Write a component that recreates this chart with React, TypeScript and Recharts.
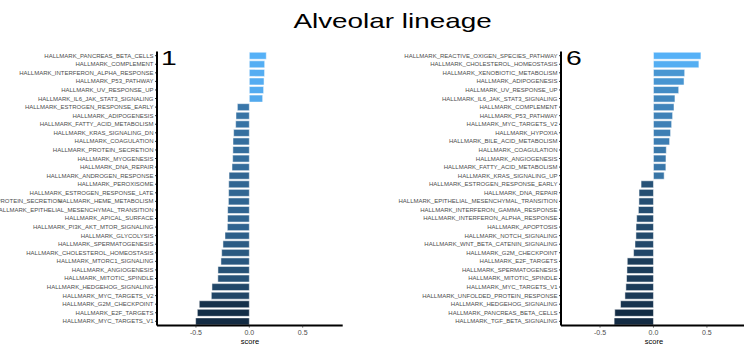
import React from 'react';
import { BarChart, Bar, XAxis, YAxis, Cell } from 'recharts';

const FONT = '"Liberation Sans", Arial, Helvetica, sans-serif';

const panel1Labels = [
  'HALLMARK_PANCREAS_BETA_CELLS',
  'HALLMARK_COMPLEMENT',
  'HALLMARK_INTERFERON_ALPHA_RESPONSE',
  'HALLMARK_P53_PATHWAY',
  'HALLMARK_UV_RESPONSE_UP',
  'HALLMARK_IL6_JAK_STAT3_SIGNALING',
  'HALLMARK_ESTROGEN_RESPONSE_EARLY',
  'HALLMARK_ADIPOGENESIS',
  'HALLMARK_FATTY_ACID_METABOLISM',
  'HALLMARK_KRAS_SIGNALING_DN',
  'HALLMARK_COAGULATION',
  'HALLMARK_PROTEIN_SECRETION',
  'HALLMARK_MYOGENESIS',
  'HALLMARK_DNA_REPAIR',
  'HALLMARK_ANDROGEN_RESPONSE',
  'HALLMARK_PEROXISOME',
  'HALLMARK_ESTROGEN_RESPONSE_LATE',
  'HALLMARK_HEME_METABOLISM',
  'HALLMARK_EPITHELIAL_MESENCHYMAL_TRANSITION',
  'HALLMARK_APICAL_SURFACE',
  'HALLMARK_PI3K_AKT_MTOR_SIGNALING',
  'HALLMARK_GLYCOLYSIS',
  'HALLMARK_SPERMATOGENESIS',
  'HALLMARK_CHOLESTEROL_HOMEOSTASIS',
  'HALLMARK_MTORC1_SIGNALING',
  'HALLMARK_ANGIOGENESIS',
  'HALLMARK_MITOTIC_SPINDLE',
  'HALLMARK_HEDGEHOG_SIGNALING',
  'HALLMARK_MYC_TARGETS_V2',
  'HALLMARK_G2M_CHECKPOINT',
  'HALLMARK_E2F_TARGETS',
  'HALLMARK_MYC_TARGETS_V1',
];
const panel1Scores = [
  0.159, 0.144, 0.143, 0.138, 0.134, 0.125, -0.112, -0.125, -0.128, -0.147,
  -0.153, -0.154, -0.156, -0.162, -0.19, -0.193, -0.194, -0.196, -0.203, -0.204,
  -0.206, -0.228, -0.247, -0.259, -0.266, -0.294, -0.295, -0.35, -0.356, -0.469,
  -0.487, -0.503,
];

const panel6Labels = [
  'HALLMARK_REACTIVE_OXIGEN_SPECIES_PATHWAY',
  'HALLMARK_CHOLESTEROL_HOMEOSTASIS',
  'HALLMARK_XENOBIOTIC_METABOLISM',
  'HALLMARK_ADIPOGENESIS',
  'HALLMARK_UV_RESPONSE_UP',
  'HALLMARK_IL6_JAK_STAT3_SIGNALING',
  'HALLMARK_COMPLEMENT',
  'HALLMARK_P53_PATHWAY',
  'HALLMARK_MYC_TARGETS_V2',
  'HALLMARK_HYPOXIA',
  'HALLMARK_BILE_ACID_METABOLISM',
  'HALLMARK_COAGULATION',
  'HALLMARK_ANGIOGENESIS',
  'HALLMARK_FATTY_ACID_METABOLISM',
  'HALLMARK_KRAS_SIGNALING_UP',
  'HALLMARK_ESTROGEN_RESPONSE_EARLY',
  'HALLMARK_DNA_REPAIR',
  'HALLMARK_EPITHELIAL_MESENCHYMAL_TRANSITION',
  'HALLMARK_INTERFERON_GAMMA_RESPONSE',
  'HALLMARK_INTERFERON_ALPHA_RESPONSE',
  'HALLMARK_APOPTOSIS',
  'HALLMARK_NOTCH_SIGNALING',
  'HALLMARK_WNT_BETA_CATENIN_SIGNALING',
  'HALLMARK_G2M_CHECKPOINT',
  'HALLMARK_E2F_TARGETS',
  'HALLMARK_SPERMATOGENESIS',
  'HALLMARK_MITOTIC_SPINDLE',
  'HALLMARK_MYC_TARGETS_V1',
  'HALLMARK_UNFOLDED_PROTEIN_RESPONSE',
  'HALLMARK_HEDGEHOG_SIGNALING',
  'HALLMARK_PANCREAS_BETA_CELLS',
  'HALLMARK_TGF_BETA_SIGNALING',
];
const panel6Scores = [
  0.444, 0.425, 0.292, 0.286, 0.236, 0.201, 0.192, 0.179, 0.17, 0.16,
  0.151, 0.12, 0.117, 0.116, 0.1, -0.116, -0.135, -0.136, -0.141, -0.157,
  -0.163, -0.164, -0.173, -0.186, -0.245, -0.248, -0.252, -0.258, -0.267, -0.308,
  -0.362, -0.368,
];

const xTicks = [-0.5, 0, 0.5];
const xDomain: [number, number] = [-0.865, 0.875];

// ggplot-like Lab gradient #132B43 -> #56B1F7
function hexToRgb(h: string) {
  const n = parseInt(h.slice(1), 16);
  return [(n >> 16) & 255, (n >> 8) & 255, n & 255];
}
function toLab(hex: string) {
  const lin = hexToRgb(hex).map((c) => {
    const v = c / 255;
    return v <= 0.04045 ? v / 12.92 : Math.pow((v + 0.055) / 1.055, 2.4);
  });
  const [r, g, b] = lin;
  const X = (0.4124 * r + 0.3576 * g + 0.1805 * b) / 0.95047;
  const Y = 0.2126 * r + 0.7152 * g + 0.0722 * b;
  const Z = (0.0193 * r + 0.1192 * g + 0.9505 * b) / 1.08883;
  const f = (t: number) => (t > 0.008856 ? Math.cbrt(t) : 7.787 * t + 16 / 116);
  return [116 * f(Y) - 16, 500 * (f(X) - f(Y)), 200 * (f(Y) - f(Z))];
}
function fromLab([L, a, bb]: number[]) {
  const fy = (L + 16) / 116;
  const fx = fy + a / 500;
  const fz = fy - bb / 200;
  const inv = (t: number) => (t * t * t > 0.008856 ? t * t * t : (t - 16 / 116) / 7.787);
  const X = inv(fx) * 0.95047;
  const Y = inv(fy);
  const Z = inv(fz) * 1.08883;
  const rl = 3.2406 * X - 1.5372 * Y - 0.4986 * Z;
  const gl = -0.9689 * X + 1.8758 * Y + 0.0415 * Z;
  const bl = 0.0557 * X - 0.204 * Y + 1.057 * Z;
  const g = (c: number) => {
    const v = c <= 0.0031308 ? 12.92 * c : 1.055 * Math.pow(c, 1 / 2.4) - 0.055;
    return Math.max(0, Math.min(255, Math.round(v * 255)));
  };
  return `rgb(${g(rl)},${g(gl)},${g(bl)})`;
}
const LOW = toLab('#132B43');
const HIGH = toLab('#56B1F7');
function colorFor(v: number, min: number, max: number) {
  const t = (v - min) / (max - min);
  return fromLab([0, 1, 2].map((i) => LOW[i] + (HIGH[i] - LOW[i]) * t));
}

const makeTick = (stray: boolean) => (props: any) => {
  const { x, y, payload } = props;
  return (
    <g>
      <text x={x} y={y} textAnchor="end" dominantBaseline="central" fontSize={6} fill="#4d4d4d" fontFamily={FONT}>
        {payload.value}
      </text>
      {stray && payload.value === 'HALLMARK_HEME_METABOLISM' ? (
        <text x={61.5} y={y} textAnchor="end" dominantBaseline="central" fontSize={6} fill="#4d4d4d" fontFamily={FONT}>
          HALLMARK_PROTEIN_SECRETION
        </text>
      ) : null}
    </g>
  );
};

const TOP = 51.4;
const BOTTOM = 325.6;
const H = 345;

function Panel({ labels, scores, width, yAxisWidth, right, stray }: any) {
  const data = labels.map((name: string, i: number) => ({ name, score: scores[i] }));
  const min = Math.min(...scores);
  const max = Math.max(...scores);
  return (
    <BarChart
      width={width}
      height={H}
      data={data}
      layout="vertical"
      barCategoryGap="10%"
      margin={{ top: TOP, bottom: 0, left: 0, right }}
    >
      <XAxis
        type="number"
        domain={xDomain}
        ticks={xTicks}
        tickFormatter={(v: number) => v.toFixed(1)}
        height={H - BOTTOM}
        axisLine={{ stroke: '#000', strokeWidth: 2 }}
        tickLine={{ stroke: '#333', strokeWidth: 0.8 }}
        tickSize={2}
        tickMargin={2.5}
        tick={{ fontSize: 7, fill: '#4d4d4d', fontFamily: FONT }}
        allowDataOverflow
      />
      <YAxis
        type="category"
        dataKey="name"
        width={yAxisWidth}
        interval={0}
        axisLine={{ stroke: '#000', strokeWidth: 2 }}
        tickLine={{ stroke: '#000', strokeWidth: 0.8 }}
        tickSize={2}
        tickMargin={1.5}
        tick={makeTick(stray)}
      />
      <Bar dataKey="score" isAnimationActive={false} stroke="#ffffff" strokeWidth={0.5}>
        {data.map((d: any, i: number) => (
          <Cell key={i} fill={colorFor(d.score, min, max)} />
        ))}
      </Bar>
    </BarChart>
  );
}

export default function App() {
  return (
    <div style={{ position: 'absolute', left: 0, top: 0, width: 744, height: 345, overflow: 'hidden', background: '#fff' }}>
      <div style={{ position: 'absolute', left: 0, top: 0 }}>
        <Panel labels={panel1Labels} scores={panel1Scores} width={372} yAxisWidth={157} right={29.3} stray />
      </div>
      <div style={{ position: 'absolute', left: 372, top: 0 }}>
        <Panel labels={panel6Labels} scores={panel6Scores} width={375} yAxisWidth={189} right={0} stray={false} />
      </div>
      <svg width={744} height={345} style={{ position: 'absolute', left: 0, top: 0, pointerEvents: 'none' }}>
        <text transform="translate(392.5,27.5) scale(1.36,1)" textAnchor="middle" fontSize={20.5} fontFamily={FONT} fill="#000">
          Alveolar lineage
        </text>
        <text transform="translate(161,65) scale(1.35,1)" fontSize={21} fontFamily={FONT} fill="#000">
          1
        </text>
        <text transform="translate(566,65) scale(1.35,1)" fontSize={21} fontFamily={FONT} fill="#000">
          6
        </text>
        <text x={249.9} y={344.3} textAnchor="middle" fontSize={7.5} fontFamily={FONT} fill="#000">
          score
        </text>
        <text x={654} y={344.3} textAnchor="middle" fontSize={7.5} fontFamily={FONT} fill="#000">
          score
        </text>
      </svg>
    </div>
  );
}
